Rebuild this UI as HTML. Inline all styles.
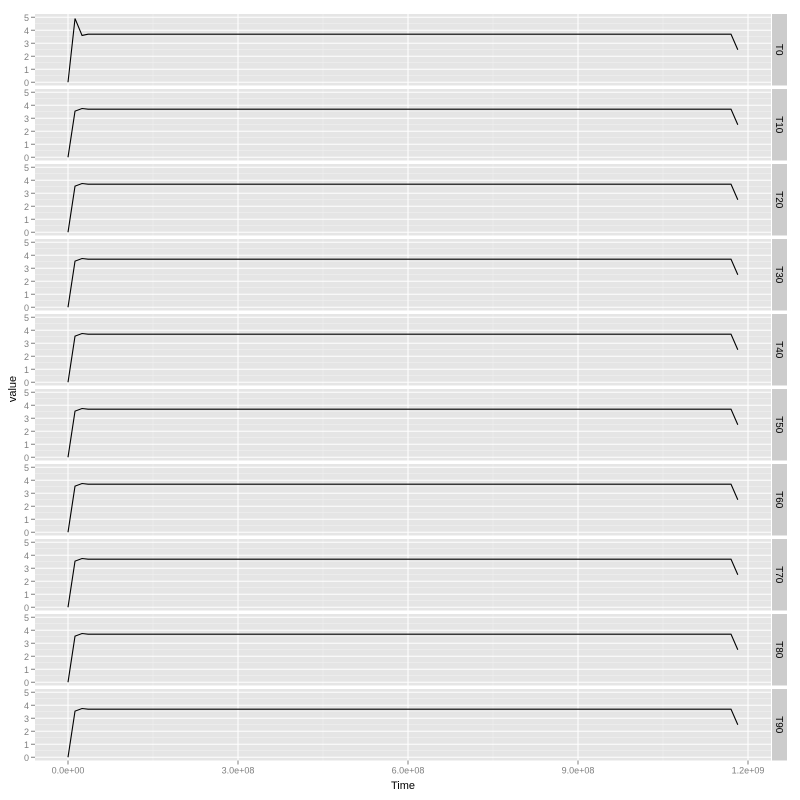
<!DOCTYPE html>
<html><head><meta charset="utf-8"><style>
body{margin:0;background:#fff;}
svg{display:block;font-family:"Liberation Sans",sans-serif;}
</style></head><body>
<svg id="chart" width="800" height="800"></svg>
<script>
const facets=["T0","T10","T20","T30","T40","T50","T60","T70","T80","T90"];
const timeValues=[0,1.24e7,2.48e7,3.54e7,1.17e9,1.182e9];
const seriesT0=[0,4.9,3.6,3.7,3.7,2.5];
const seriesOther=[0,3.55,3.75,3.7,3.7,2.5];
const xTicks=[0,3e8,6e8,9e8,1.2e9];
const xTickLabels=["0.0e+00","3.0e+08","6.0e+08","9.0e+08","1.2e+09"];
const yTicks=[0,1,2,3,4,5];

const NS="http://www.w3.org/2000/svg";
const svg=document.getElementById('chart');
function el(t,a,p){const e=document.createElementNS(NS,t);for(const k in a)e.setAttribute(k,a[k]);(p||svg).appendChild(e);return e;}
const L=35,R=771,top0=14,pitch=75,ph=71.5;
const xs=v=>68+v*(680/1.2e9);
facets.forEach((f,i)=>{
  const t=top0+i*pitch,b=t+ph;
  const ys=v=>b-(v+0.25)*(ph/5.5);
  const g=el('g',{});
  
  
  el('rect',{x:L,y:t,width:R-L,height:ph,fill:'#e5e5e5'},g);
  for(let v=0.5;v<5;v+=1) el('line',{x1:L,x2:R,y1:ys(v),y2:ys(v),stroke:'#f2f2f2','stroke-width':0.5},g);
  [1.5e8,4.5e8,7.5e8,1.05e9].forEach(v=>el('line',{x1:xs(v),x2:xs(v),y1:t,y2:b,stroke:'#f2f2f2','stroke-width':0.5},g));
  yTicks.forEach(v=>{
    el('line',{x1:L,x2:R,y1:ys(v),y2:ys(v),stroke:'#fff','stroke-width':1.1},g);
    el('line',{x1:L-4,x2:L,y1:ys(v),y2:ys(v),stroke:'#7f7f7f','stroke-width':1},g);
    const tx=el('text',{x:L-6,y:ys(v)+3.5,'text-anchor':'end','font-size':9,fill:'#7f7f7f'},g);tx.textContent=v;
  });
  xTicks.forEach(v=>el('line',{x1:xs(v),x2:xs(v),y1:t,y2:b,stroke:'#fff','stroke-width':1.1},g));
  const vals=i===0?seriesT0:seriesOther;
  const line=el('polyline',{points:timeValues.map((x,j)=>xs(x)+','+ys(vals[j])).join(' '),fill:'none',stroke:'#000','stroke-width':1.1},g);
  
  
  el('rect',{x:R+1,y:t,width:15,height:ph,fill:'#cccccc'},g);
  const st=el('text',{x:0,y:0,transform:`translate(${R+5},${t+ph/2}) rotate(90)`,'text-anchor':'middle','font-size':10,fill:'#000'},g);
  st.textContent=f;
  
  
});
const lastB=top0+9*pitch+ph;
xTicks.forEach((v,i)=>{
  el('line',{x1:xs(v),x2:xs(v),y1:lastB,y2:lastB+4,stroke:'#7f7f7f'});
  const t=el('text',{x:xs(v),y:lastB+13,'text-anchor':'middle','font-size':9,fill:'#7f7f7f'});t.textContent=xTickLabels[i];
});
const xt=el('text',{x:403,y:789,'text-anchor':'middle','font-size':11});xt.textContent='Time';


const yt=el('text',{x:0,y:0,transform:'translate(16,389) rotate(-90)','text-anchor':'middle','font-size':11});yt.textContent='value';


</script>
</body></html>
